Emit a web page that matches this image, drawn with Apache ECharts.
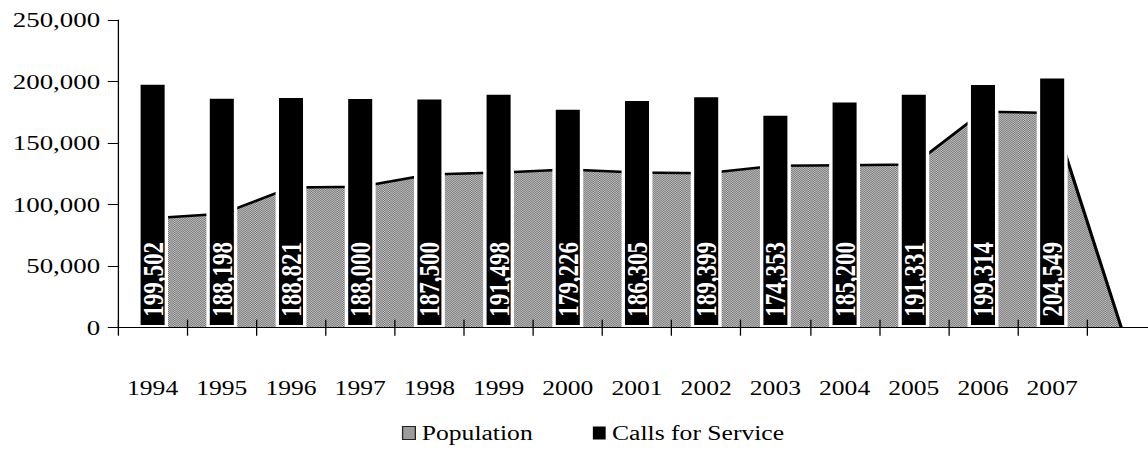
<!DOCTYPE html>
<html>
<head>
<meta charset="utf-8">
<script src="https://cdn.jsdelivr.net/npm/echarts@6/dist/echarts.min.js"></script>
<style>
  html, body { margin: 0; padding: 0; background: #fff; overflow: hidden; }
  /* the chart is laid out narrow and widened horizontally, giving the wide serif lettering;
     the plot runs past the right edge of the window */
  #chart { width: 920px; height: 455px; transform: scaleX(1.28); transform-origin: 0 0; }
</style>
</head>
<body>
<div id="chart"></div>
<script>
// ---- data ----
const years = ['1994', '1995', '1996', '1997', '1998', '1999', '2000', '2001', '2002', '2003', '2004', '2005', '2006', '2007', ''];
const population = [89000, 92500, 114000, 114500, 124500, 126000, 128500, 126000, 125500, 131500, 132000, 132500, 175500, 174500, 0];
const callsForService = [199502, 188198, 188821, 188000, 187500, 191498, 179226, 186305, 189399, 174353, 185200, 191331, 199314, 204549];
const yMin = 0;
const yMax = 250000;
const yStep = 50000;

// ---- dithered grey fill for the population area ----
function ditherTile() {
  const c = document.createElement('canvas');
  c.width = 4; c.height = 4;
  const g = c.getContext('2d');
  g.fillStyle = '#cccccc';
  g.fillRect(0, 0, 4, 4);
  g.fillStyle = '#6c6c6c';
  for (let y = 0; y < 4; y++) {
    for (let x = 0; x < 4; x++) {
      if ((x + y) % 2 === 0) g.fillRect(x, y, 1, 1);
    }
  }
  return c;
}
const grain = { image: ditherTile(), repeat: 'repeat', imageWidth: 4, imageHeight: 4 };

const serif = 'Liberation Serif';
const gridRect = { left: 92.2, top: 20, width: 810.9, height: 307.7 };

const chart = echarts.init(document.getElementById('chart'), null, { renderer: 'svg' });
chart.setOption({
  animation: false,
  backgroundColor: '#fff',
  textStyle: { fontFamily: serif },
  grid: [
    Object.assign({}, gridRect),
    Object.assign({}, gridRect)
  ],
  legend: {
    left: 309,
    top: 418,
    itemWidth: 10,
    itemHeight: 13,
    itemGap: 47,
    textStyle: { fontFamily: serif, fontSize: 20, color: '#000' },
    data: [
      { name: 'Population', icon: 'rect', itemStyle: { color: grain, borderColor: '#222', borderWidth: 1 } },
      { name: 'Calls for Service', icon: 'rect', itemStyle: { color: '#000', borderWidth: 0 } }
    ]
  },
  xAxis: [
    {
      type: 'category',
      gridIndex: 0,
      data: years,
      boundaryGap: true,
      z: 5,
      axisLine: { lineStyle: { color: '#000', width: 1 } },
      axisTick: { show: true, length: 8, lineStyle: { color: '#000' } },
      axisLabel: { interval: 0, margin: 51, fontFamily: serif, fontSize: 20, color: '#000' }
    },
    {
      type: 'category',
      gridIndex: 1,
      data: years,
      boundaryGap: true,
      z: 5,
      axisLine: { show: false },
      axisTick: { show: true, inside: true, length: 8, lineStyle: { color: '#000' } },
      axisLabel: { show: false }
    }
  ],
  yAxis: [
    {
      type: 'value',
      gridIndex: 0,
      min: yMin,
      max: yMax,
      interval: yStep,
      z: 5,
      splitLine: { show: false },
      axisLine: { show: true, lineStyle: { color: '#000', width: 1 } },
      axisTick: { show: true, length: 8, lineStyle: { color: '#000' } },
      axisLabel: {
        margin: 14,
        fontFamily: serif,
        fontSize: 21,
        color: '#000',
        formatter: v => v.toLocaleString('en-US')
      }
    },
    { type: 'value', gridIndex: 1, min: yMin, max: yMax, interval: yStep, show: false }
  ],
  series: [
    {
      name: 'Population',
      type: 'line',
      z: 1,
      xAxisIndex: 0,
      yAxisIndex: 0,
      data: population,
      symbol: 'none',
      color: '#000',
      lineStyle: { color: '#000', width: 2.5 },
      areaStyle: { color: grain, opacity: 1 }
    },
    {
      name: 'Calls for Service',
      type: 'bar',
      z: 3,
      xAxisIndex: 0,
      yAxisIndex: 0,
      data: callsForService,
      barWidth: 24.1,
      itemStyle: { color: '#000', borderColor: '#fff', borderWidth: 2.66 },
      label: {
        show: true,
        position: 'insideBottom',
        rotate: 90,
        align: 'left',
        verticalAlign: 'middle',
        distance: 11,
        color: '#fff',
        fontFamily: serif,
        fontWeight: 'bold',
        fontSize: 23,
        formatter: p => p.value.toLocaleString('en-US')
      }
    }
  ]
});
</script>
</body>
</html>
